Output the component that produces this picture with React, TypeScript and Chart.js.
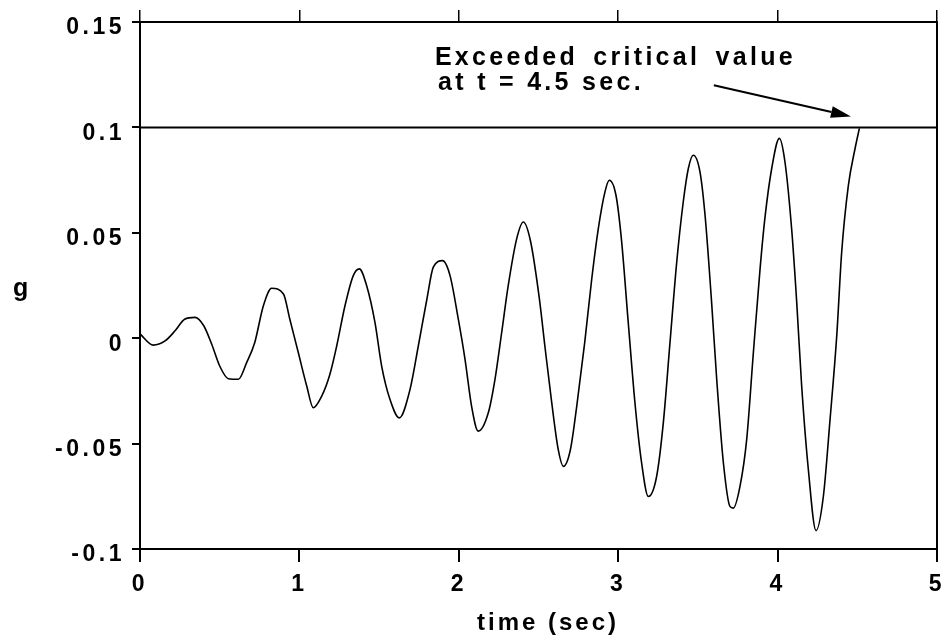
import React, { useEffect, useRef } from "react";
import { Chart, registerables } from "chart.js";

Chart.register(...registerables);

// ---- data ----
const timeSec = [
  0, 0.083, 0.157, 0.22, 0.28, 0.345, 0.4, 0.45, 0.5, 0.554, 0.617, 0.669, 0.72, 0.774, 0.826, 0.9, 0.94, 0.993,
  1.046, 1.087, 1.14, 1.19, 1.234, 1.286, 1.338, 1.376, 1.422, 1.474, 1.516, 1.568, 1.627, 1.694, 1.746, 1.8, 1.84,
  1.899, 1.945, 1.997, 2.039, 2.08, 2.122, 2.185, 2.227, 2.269, 2.31, 2.363, 2.405, 2.45, 2.505, 2.54, 2.583, 2.624,
  2.656, 2.7, 2.74, 2.79, 2.834, 2.875, 2.917, 2.944, 2.986, 3.02, 3.063, 3.105, 3.147, 3.189, 3.241, 3.283, 3.325,
  3.367, 3.408, 3.44, 3.471, 3.513, 3.545, 3.586, 3.618, 3.66, 3.701, 3.722, 3.764, 3.806, 3.848, 3.89, 3.92, 3.963,
  4.011, 4.046, 4.088, 4.12, 4.151, 4.193, 4.241, 4.287, 4.329, 4.371, 4.402, 4.444, 4.486, 4.513,
];
const accelG = [
  0.002, -0.0033, -0.0013, 0.0035, 0.009, 0.0099, 0.0059, -0.0029, -0.0132, -0.0192, -0.0195, -0.0116, -0.002,
  0.0154, 0.0237, 0.021, 0.009, -0.0068, -0.0227, -0.033, -0.0275, -0.0175, -0.0037, 0.0154, 0.0297, 0.0329, 0.0249,
  0.0075, -0.0132, -0.029, -0.0378, -0.0243, -0.0037, 0.0186, 0.0337, 0.0368, 0.0297, 0.009, -0.01, -0.0322, -0.0441,
  -0.0354, -0.0195, 0.0027, 0.0249, 0.0471, 0.0551, 0.046, 0.019, -0.0037, -0.0306, -0.0529, -0.0608, -0.0529,
  -0.0322, -0.002, 0.0281, 0.0519, 0.0694, 0.0749, 0.0678, 0.0471, 0.0075, -0.0306, -0.0592, -0.0751, -0.0656,
  -0.0402, -0.002, 0.036, 0.0646, 0.0805, 0.0868, 0.0789, 0.0582, 0.017, -0.0195, -0.0592, -0.0798, -0.0806, -0.0703,
  -0.0481, -0.0068, 0.0329, 0.0567, 0.0805, 0.0948, 0.0837, 0.0519, 0.017, -0.0227, -0.0624, -0.0913, -0.0751,
  -0.0386, 0.0011, 0.0408, 0.0725, 0.09, 0.0995,
];
const criticalValue = 0.1;
const criticalSpan = [0, 5];
const xMin = 0;
const xMax = 5;
const xStep = 1;
const yMin = -0.1;
const yMax = 0.15;
const yStep = 0.05;
const xTitle = "time (sec)";
const yTitle = "g";
const noteLines = ["Exceeded critical value", "at t = 4.5 sec."];

const FONT = '"Liberation Sans", Arial, Helvetica, sans-serif';

const overlay = {
  id: "overlay",
  beforeDraw(chart: any) {
    chart.ctx.letterSpacing = "3.5px";
  },
  afterDraw(chart: any) {
    const { ctx, scales } = chart;
    const x = scales.x;
    const y = scales.y;
    ctx.save();
    ctx.fillStyle = "#000";
    ctx.strokeStyle = "#000";
    // annotation text
    ctx.font = `bold 25px ${FONT}`;
    ctx.letterSpacing = "3.3px";
    ctx.textAlign = "left";
    ctx.textBaseline = "alphabetic";
    (ctx as any).wordSpacing = "5px";
    ctx.fillText(noteLines[0], x.getPixelForValue(1.85), y.getPixelForValue(0.1295));
    (ctx as any).wordSpacing = "0px";
    ctx.fillText(noteLines[1], x.getPixelForValue(1.87), y.getPixelForValue(0.1176));
    // arrow
    const x0 = x.getPixelForValue(3.6);
    const y0 = y.getPixelForValue(0.12);
    const x1 = x.getPixelForValue(4.46);
    const y1 = y.getPixelForValue(0.1052);
    const ang = Math.atan2(y1 - y0, x1 - x0);
    const hl = 20;
    const hw = 6;
    const bx = x1 - hl * Math.cos(ang);
    const by = y1 - hl * Math.sin(ang);
    ctx.lineWidth = 2;
    ctx.beginPath();
    ctx.moveTo(x0, y0);
    ctx.lineTo(bx, by);
    ctx.stroke();
    ctx.beginPath();
    ctx.moveTo(x1, y1);
    ctx.lineTo(bx + hw * Math.sin(ang), by - hw * Math.cos(ang));
    ctx.lineTo(bx - hw * Math.sin(ang), by + hw * Math.cos(ang));
    ctx.closePath();
    ctx.fill();
    // y title
    ctx.font = `bold 25px ${FONT}`;
    ctx.letterSpacing = "0px";
    ctx.fillText(yTitle, 13, 296);
    // x title
    ctx.font = `bold 24px ${FONT}`;
    ctx.letterSpacing = "3px";
    ctx.textAlign = "center";
    ctx.fillText(xTitle, 548, 630);
    ctx.restore();
  },
};

const fixHorizontal = (h: number) => (s: any) => {
  s.height = h;
  s.paddingLeft = 0;
  s.paddingRight = 0;
};

export default function App() {
  const ref = useRef<HTMLCanvasElement | null>(null);

  useEffect(() => {
    if (!ref.current) return;
    const tickFont = { family: FONT, size: 23, weight: "bold" as const };
    const chart = new Chart(ref.current, {
      type: "line",
      data: {
        datasets: [
          {
            data: timeSec.map((t, i) => ({ x: t, y: accelG[i] })),
            borderColor: "#000",
            borderWidth: 1.6,
            pointRadius: 0,
            cubicInterpolationMode: "monotone",
            fill: false,
          },
          {
            data: criticalSpan.map((t) => ({ x: t, y: criticalValue })),
            borderColor: "#000",
            borderWidth: 2,
            pointRadius: 0,
            fill: false,
          },
        ],
      },
      options: {
        responsive: false,
        animation: false,
        layout: { padding: 0, autoPadding: false },
        plugins: { legend: { display: false }, tooltip: { enabled: false } },
        scales: {
          x: {
            type: "linear",
            position: "bottom",
            min: xMin,
            max: xMax,
            ticks: {
              stepSize: xStep,
              font: tickFont,
              color: "#000",
              padding: 9,
              maxRotation: 0,
              callback: (v: any) => String(v),
            },
            grid: { drawOnChartArea: false, drawTicks: true, tickLength: 13, color: "#000", lineWidth: 2 },
            border: { display: true, color: "#000", width: 2 },
            afterFit: fixHorizontal(90),
          },
          x2: {
            type: "linear",
            position: "top",
            min: xMin,
            max: xMax,
            ticks: { stepSize: xStep, display: false },
            grid: { drawOnChartArea: false, drawTicks: true, tickLength: 12, color: "#000", lineWidth: 1.5 },
            border: { display: true, color: "#000", width: 2 },
            afterFit: fixHorizontal(22),
          },
          y: {
            type: "linear",
            position: "left",
            min: yMin,
            max: yMax,
            ticks: {
              stepSize: yStep,
              font: tickFont,
              color: "#000",
              padding: 7,
              labelOffset: 6,
              callback: (v: any) => String(Math.round(Number(v) * 100) / 100),
            },
            grid: { drawOnChartArea: false, drawTicks: true, tickLength: 8, color: "#000", lineWidth: 2 },
            border: { display: true, color: "#000", width: 2 },
            afterFit: (s: any) => {
              s.width = 140;
              s.paddingTop = 0;
              s.paddingBottom = 0;
            },
          },
          y2: {
            type: "linear",
            position: "right",
            min: yMin,
            max: yMax,
            ticks: { stepSize: yStep, display: false },
            grid: { drawOnChartArea: false, drawTicks: false },
            border: { display: true, color: "#000", width: 2 },
            afterFit: (s: any) => {
              s.width = 5;
              s.paddingTop = 0;
              s.paddingBottom = 0;
            },
          },
        },
      },
      plugins: [overlay],
    } as any);
    return () => chart.destroy();
  }, []);

  return (
    <div style={{ position: "fixed", left: 0, top: 0, width: 942, height: 639, background: "#fff" }}>
      <canvas ref={ref} width={942} height={639} style={{ width: 942, height: 639, display: "block" }} />
    </div>
  );
}
